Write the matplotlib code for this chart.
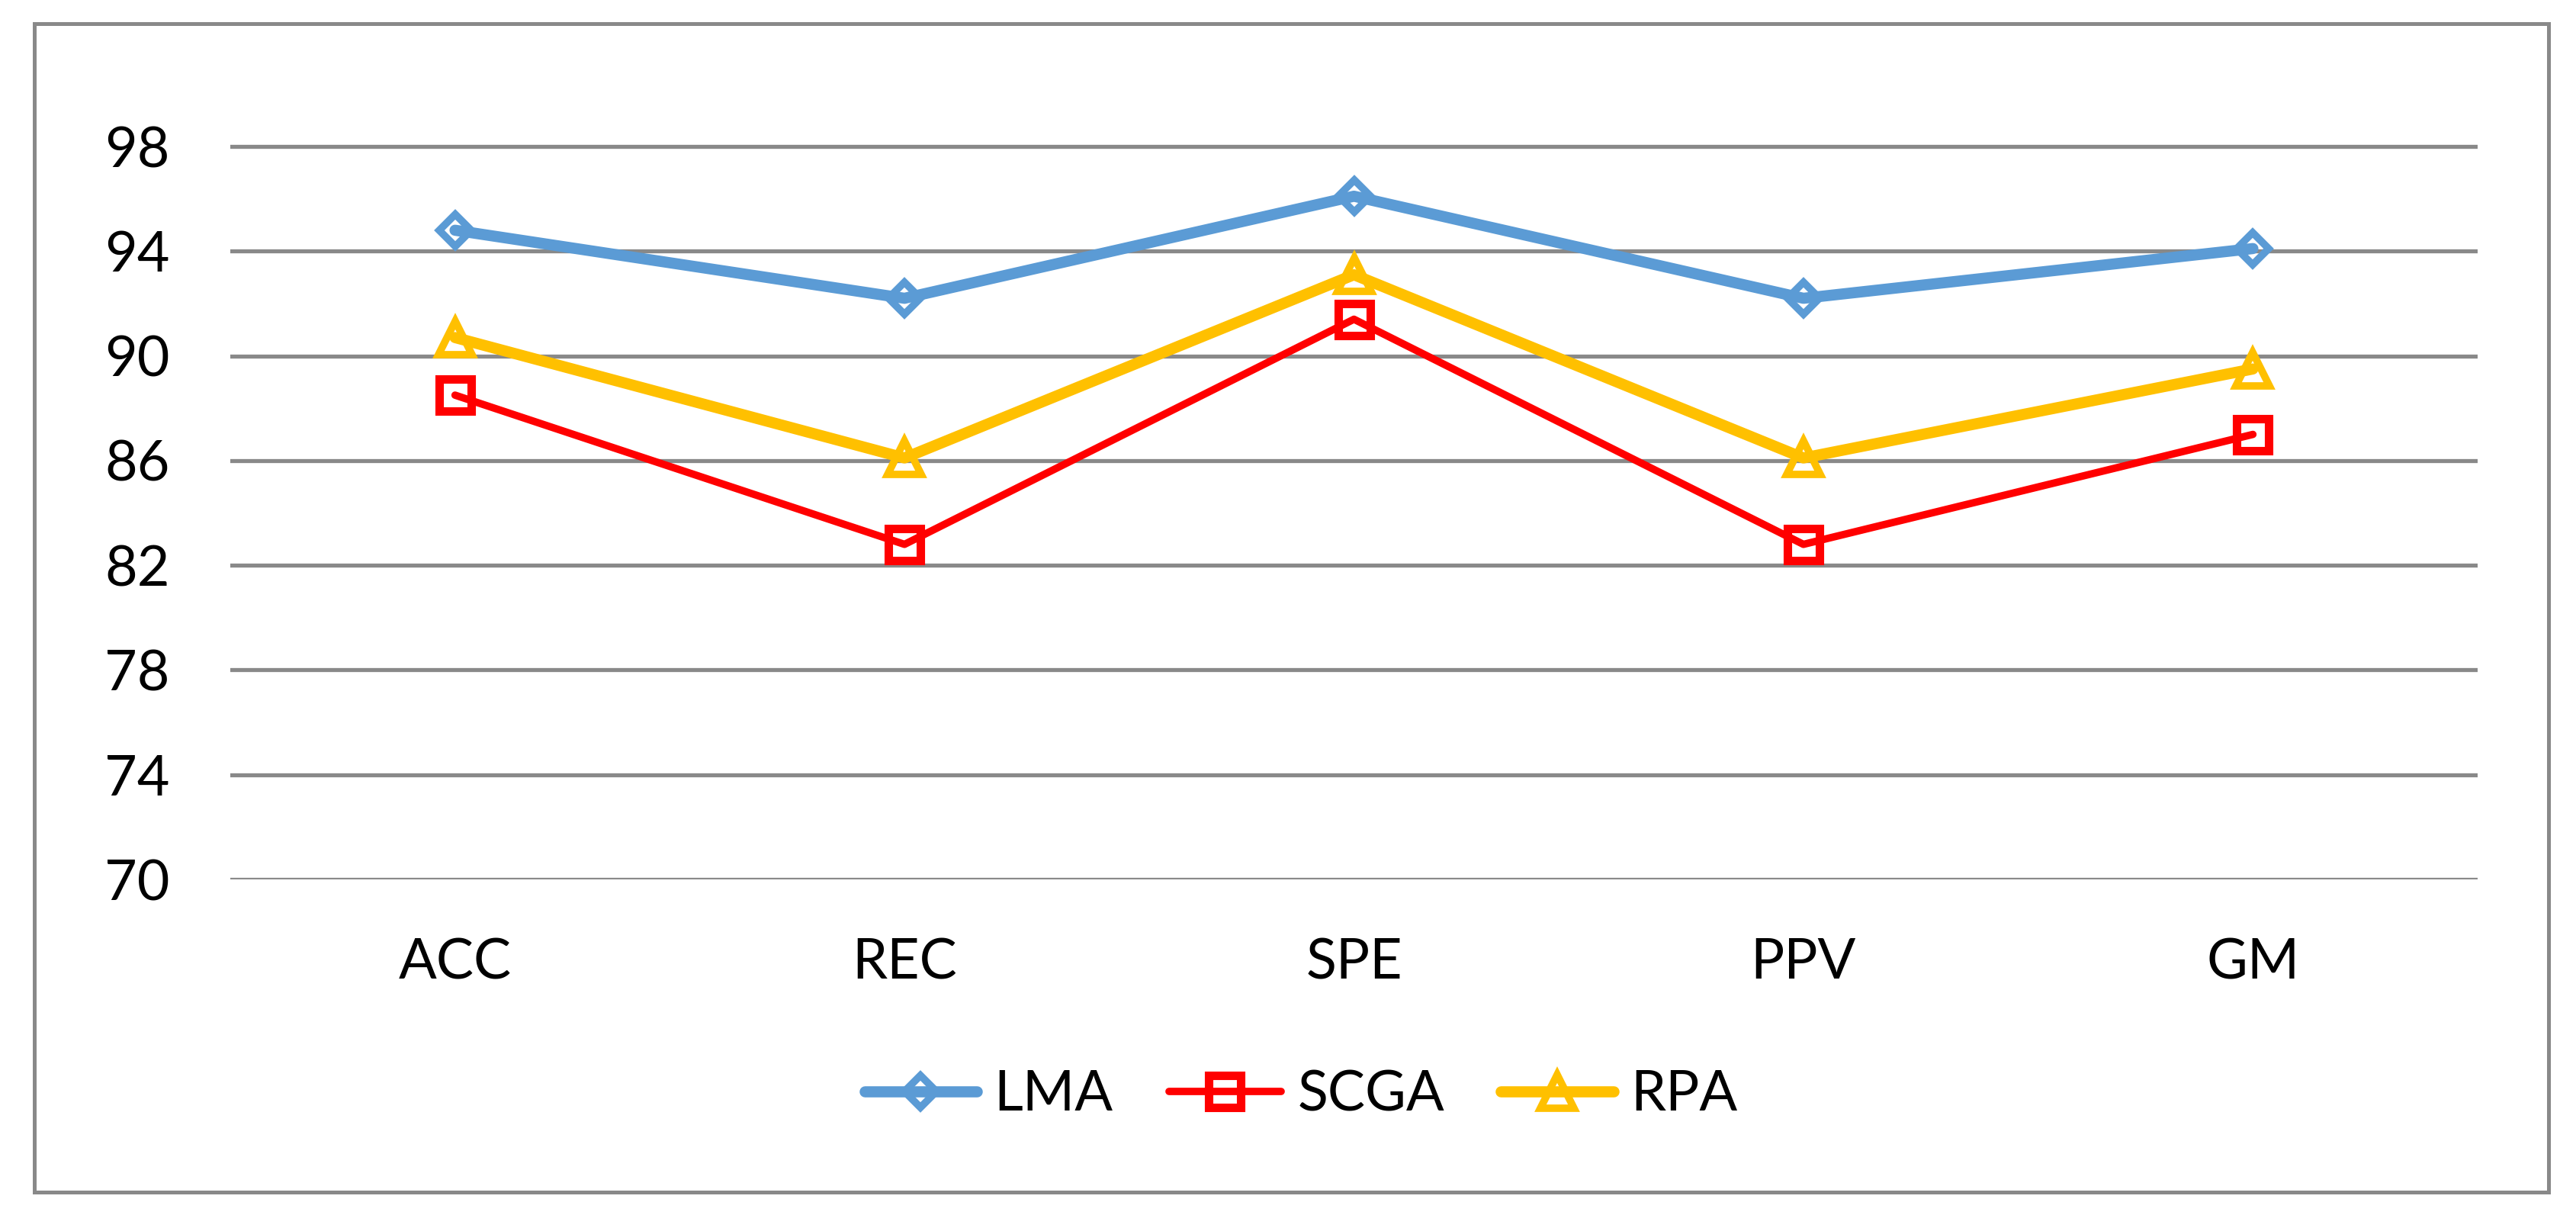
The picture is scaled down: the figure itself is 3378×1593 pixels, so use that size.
import matplotlib
matplotlib.use("Agg")
import matplotlib.pyplot as plt
import numpy as np
from matplotlib.patches import Rectangle

categories = ["ACC", "REC", "SPE", "PPV", "GM"]
lma = [94.8, 92.2, 96.1, 92.2, 94.1]
scga = [88.5, 82.8, 91.4, 82.8, 87.0]
rpa = [90.7, 86.1, 93.1, 86.1, 89.5]
series_names = ["LMA", "SCGA", "RPA"]
y_ticks = [70, 74, 78, 82, 86, 90, 94, 98]

plt.rcParams['font.family'] = ['Lato', 'DejaVu Sans']

W, H = 3378, 1593
dpi = 100
fig = plt.figure(figsize=(W / dpi, H / dpi), dpi=dpi)
fig.patch.set_facecolor('white')

ax = fig.add_axes([302 / W, 1 - 1153 / H, (3249 - 302) / W, (1153 - 123.4) / H])
ax.set_facecolor('none')

x = np.arange(len(categories))
grid_c = '#898989'

common = dict(markerfacecolor='none', solid_capstyle='round', solid_joinstyle='round')
ax.plot(x, lma, color='#5B9BD5', lw=10.5, marker='D', ms=21, mew=7,
        label=series_names[0], **common)
ax.plot(x, scga, color='#FF0000', lw=7, marker='s', ms=30, mew=8,
        label=series_names[1], **common)
ax.plot(x, rpa, color='#FFC000', lw=10.5, marker='^', ms=31, mew=7,
        label=series_names[2], **common)

ax.set_xlim(-0.5, len(categories) - 0.5)
ax.set_ylim(70, 100)
ax.set_yticks(y_ticks)
ax.set_yticklabels([str(v) for v in y_ticks])
ax.set_xticks(x)
ax.set_xticklabels(categories)
ax.tick_params(axis='both', length=0, labelsize=53, colors='black')
ax.tick_params(axis='y', pad=57)
ax.tick_params(axis='x', pad=55)
ax.yaxis.grid(True, color=grid_c, lw=3.8)
ax.set_axisbelow(True)
for s in ax.spines.values():
    s.set_visible(False)

leg = fig.legend(loc='center', bbox_to_anchor=(0.505, 1 - 1436 / H), ncol=3,
                 frameon=False, fontsize=53, handlelength=2.0, handletextpad=0.3,
                 columnspacing=1.0, numpoints=1)

fig.patches.append(Rectangle((44.5 / W, 1 - 1562.5 / H), (3342 - 44.5) / W,
                             (1562.5 - 30.5) / H, transform=fig.transFigure,
                             fill=False, edgecolor=grid_c, lw=3.6))

fig.savefig('out.png', dpi=dpi)
